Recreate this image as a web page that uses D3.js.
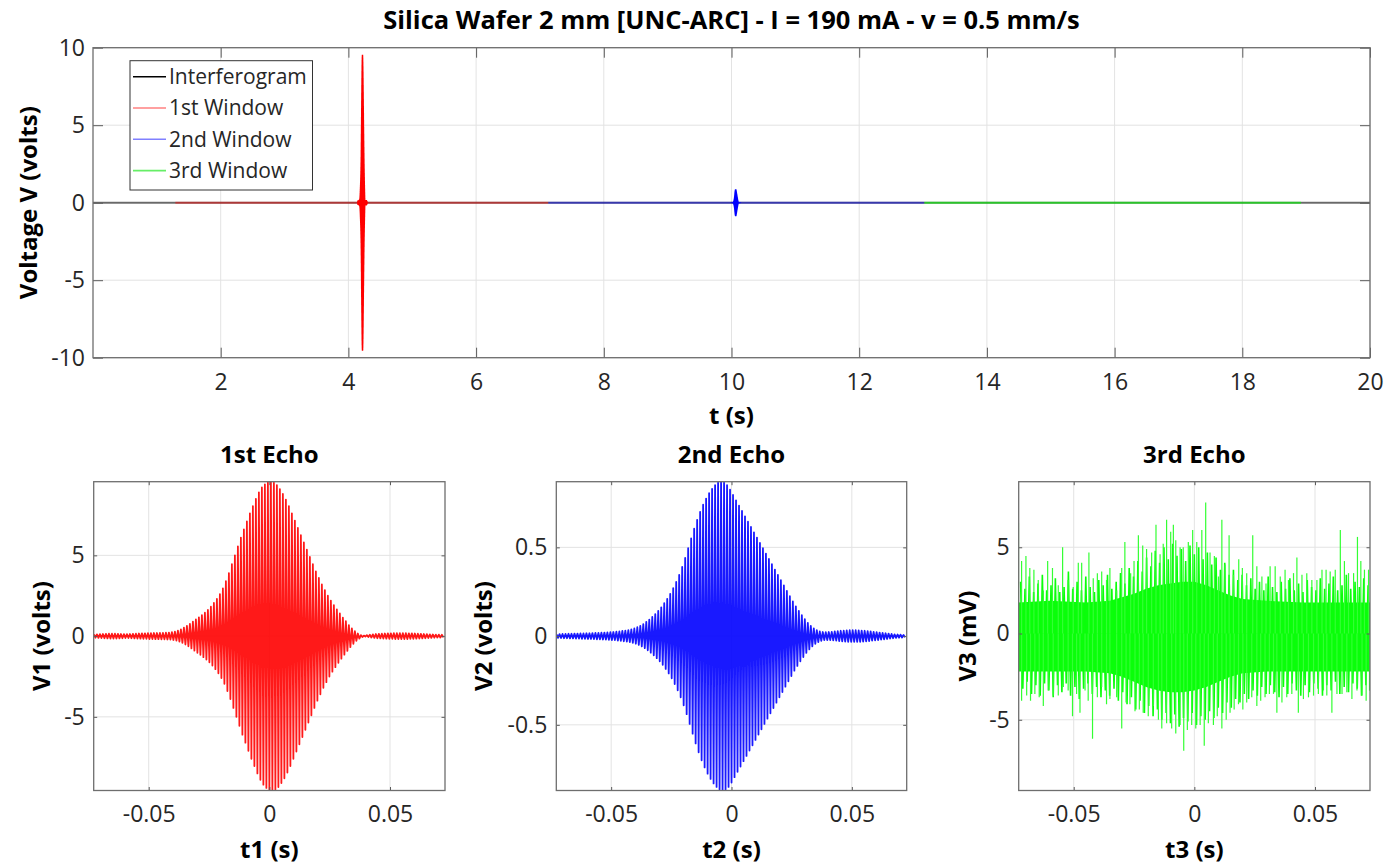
<!DOCTYPE html>
<html>
<head>
<meta charset="utf-8">
<script src="https://cdn.jsdelivr.net/npm/d3@7"></script>
<style>
  body { margin: 0; background: #fff; }
  text { font-family: "Open Sans", sans-serif; fill: #262626; }
  .lbl { font-weight: bold; fill: #000; }
</style>
</head>
<body>
<svg id="chart" width="1386" height="866"></svg>
<script>
// ---- data ----
var echoStart = -0.0727     // s, first sample of each echo window
var echoStep = 0.001243     // s, one oscillation period

// positive peak of each oscillation cycle, 1st echo (volts)
var v1Peaks = [0.10,0.11,0.12,0.13,0.14,0.15,0.15,0.15,0.14,0.13,
  0.12,0.12,0.13,0.14,0.15,0.16,0.17,0.17,0.18,0.18,
  0.19,0.19,0.20,0.20,0.21,0.22,0.24,0.28,0.34,0.42,
  0.52,0.63,0.76,0.90,1.03,1.16,1.30,1.45,1.62,1.82,
  2.05,2.30,2.60,2.95,3.40,3.90,4.45,5.00,5.55,6.10,
  6.60,7.10,7.60,8.05,8.50,8.90,9.20,9.40,9.52,9.55,
  9.50,9.35,9.10,8.80,8.45,8.05,7.60,7.15,6.70,6.25,
  5.80,5.35,4.90,4.45,4.00,3.60,3.20,2.85,2.50,2.20,
  1.92,1.65,1.40,1.15,0.92,0.68,0.48,0.30,0.16,0.06,
  0.03,0.06,0.09,0.11,0.13,0.14,0.15,0.16,0.17,0.17,
  0.18,0.18,0.18,0.18,0.18,0.17,0.17,0.16,0.15,0.14,
  0.13,0.12,0.11,0.10,0.09,0.09,0.08]

// positive peak of each oscillation cycle, 2nd echo (volts)
var v2Peaks = [0.010,0.011,0.012,0.012,0.013,0.013,0.014,0.014,0.015,0.015,
  0.016,0.016,0.017,0.018,0.018,0.019,0.020,0.021,0.022,0.023,
  0.025,0.027,0.029,0.031,0.034,0.038,0.043,0.050,0.058,0.068,
  0.080,0.093,0.108,0.124,0.142,0.162,0.185,0.210,0.238,0.270,
  0.305,0.345,0.390,0.440,0.495,0.550,0.605,0.655,0.700,0.740,
  0.775,0.805,0.830,0.850,0.865,0.870,0.865,0.850,0.825,0.795,
  0.765,0.735,0.705,0.675,0.645,0.615,0.585,0.555,0.525,0.495,
  0.465,0.435,0.405,0.375,0.345,0.315,0.285,0.255,0.225,0.195,
  0.168,0.142,0.118,0.095,0.075,0.058,0.044,0.034,0.027,0.023,
  0.022,0.023,0.024,0.026,0.028,0.030,0.031,0.032,0.033,0.033,
  0.033,0.032,0.031,0.030,0.028,0.026,0.024,0.022,0.020,0.018,
  0.016,0.014,0.012,0.010,0.009,0.008,0.006]

// 3rd echo (mV): solid noise band edges
var v3CoreT  = [-0.0729,-0.060,-0.045,-0.035,-0.030,-0.025,-0.020,-0.015,-0.010,-0.005,
  0.000,0.005,0.010,0.015,0.020,0.030,0.045,0.060,0.0729]
var v3CoreUp = [1.8,1.9,1.8,1.9,2.1,2.3,2.6,2.8,2.9,3.0,3.0,2.8,2.5,2.2,2.0,1.9,1.8,1.8,1.8]
var v3CoreLo = [-2.2,-2.2,-2.2,-2.3,-2.5,-2.8,-3.1,-3.3,-3.4,-3.4,-3.3,-3.1,-2.8,-2.5,-2.3,-2.2,-2.2,-2.2,-2.2]

// 3rd echo: ragged fringe of the band, one value per 1.8 ms
var fringeStart = -0.0720, fringeStep = 0.0018
var v3FringeUp = [3.0,2.6,3.3,2.4,2.9,3.4,2.5,2.8,3.2,2.4,
  2.7,3.6,2.6,3.0,2.5,3.3,2.7,2.4,3.1,2.8,
  3.4,2.6,3.0,3.5,2.9,3.8,3.3,4.2,3.6,4.4,
  3.9,4.8,4.1,5.0,4.3,5.2,4.5,4.9,4.2,5.1,
  4.6,5.0,4.3,4.7,4.0,4.4,3.7,4.1,3.4,3.7,
  3.1,3.4,2.8,3.2,2.6,3.0,2.5,3.3,2.7,2.4,
  3.0,2.6,3.2,2.5,2.9,2.4,3.1,2.7,2.5,3.2,
  2.6,2.9,3.3,2.5,2.8,3.4,2.6,3.0,2.7,3.2,2.8]
var v3FringeLo = [-3.2,-2.8,-3.5,-3.0,-3.6,-2.9,-3.3,-3.7,-3.0,-3.4,
  -2.9,-3.6,-3.1,-3.8,-3.2,-2.9,-3.5,-3.1,-3.7,-3.3,
  -3.6,-3.2,-3.9,-3.4,-4.1,-3.7,-4.4,-3.9,-4.6,-4.2,
  -4.8,-4.4,-5.0,-4.6,-5.2,-4.7,-5.4,-4.9,-5.1,-4.6,
  -5.3,-4.8,-5.0,-4.5,-4.9,-4.3,-4.6,-4.0,-4.3,-3.8,
  -4.0,-3.5,-3.8,-3.3,-3.6,-3.1,-3.5,-3.0,-3.4,-3.7,
  -3.1,-3.5,-2.9,-3.3,-3.6,-3.0,-3.4,-2.9,-3.2,-3.6,
  -3.0,-3.3,-2.8,-3.5,-3.1,-3.4,-2.9,-3.2,-3.6,-3.0,-3.3]

// 3rd echo: the tall visible spikes (time s, value mV)
var v3UpT = [-0.0729,-0.0716,-0.0698,-0.0682,-0.0665,-0.0647,-0.0626,-0.0608,-0.0588,-0.0564,
  -0.0546,-0.0523,-0.0502,-0.0481,-0.0467,-0.0437,-0.0419,-0.0402,-0.0384,-0.0364,
  -0.0350,-0.0322,-0.0301,-0.0288,-0.0264,-0.0250,-0.0232,-0.0214,-0.0198,-0.0177,
  -0.0159,-0.0142,-0.0129,-0.0115,-0.0098,-0.0087,-0.0077,-0.0059,-0.0046,-0.0025,
  -0.0007,0.0010,0.0031,0.0047,0.0065,0.0083,0.0100,0.0114,0.0127,0.0144,
  0.0162,0.0184,0.0199,0.0217,0.0242,0.0259,0.0280,0.0297,0.0314,0.0335,
  0.0356,0.0376,0.0390,0.0411,0.0425,0.0446,0.0466,0.0487,0.0508,0.0529,
  0.0546,0.0563,0.0584,0.0605,0.0622,0.0639,0.0660,0.0676,0.0690,0.0705,0.0722]
var v3UpV = [6.4,4.2,4.5,3.8,3.7,3.1,2.5,4.2,3.8,2.8,
  5.0,3.1,2.7,4.1,4.1,4.7,3.2,3.5,3.6,3.1,
  3.8,2.5,3.8,5.3,3.5,4.2,5.7,5.1,4.9,4.7,
  6.3,4.6,5.2,6.6,5.9,6.3,5.4,5.0,5.0,5.3,
  6.0,5.3,6.0,7.6,4.7,4.5,3.3,6.6,4.0,5.7,
  3.4,4.3,3.8,3.5,5.7,3.9,3.3,2.9,3.9,3.9,
  3.3,3.7,3.1,3.5,4.4,3.4,3.5,3.1,3.1,3.7,
  3.7,3.6,3.7,6.0,4.2,3.5,3.5,5.6,4.2,3.7,3.7]

var v3LoT = [-0.0729,-0.0716,-0.0695,-0.0679,-0.0661,-0.0643,-0.0626,-0.0606,-0.0585,-0.0564,
  -0.0543,-0.0523,-0.0505,-0.0488,-0.0474,-0.0453,-0.0440,-0.0422,-0.0402,-0.0384,
  -0.0364,-0.0350,-0.0322,-0.0301,-0.0283,-0.0267,-0.0246,-0.0228,-0.0212,-0.0191,
  -0.0170,-0.0149,-0.0135,-0.0115,-0.0094,-0.0077,-0.0059,-0.0044,-0.0029,-0.0011,
  0.0006,0.0024,0.0041,0.0058,0.0079,0.0095,0.0114,0.0132,0.0148,0.0165,
  0.0183,0.0201,0.0217,0.0238,0.0259,0.0275,0.0293,0.0311,0.0328,0.0342,
  0.0363,0.0383,0.0404,0.0431,0.0452,0.0473,0.0494,0.0514,0.0535,0.0549,
  0.0570,0.0591,0.0612,0.0632,0.0653,0.0674,0.0695,0.0712,0.0726]
var v3LoV = [-2.9,-3.9,-3.6,-3.9,-3.5,-3.7,-4.2,-3.3,-3.6,-3.6,
  -3.1,-3.3,-4.8,-3.5,-4.6,-3.3,-3.9,-6.1,-3.7,-3.1,
  -4.1,-3.8,-3.7,-5.5,-4.0,-4.1,-4.5,-4.4,-4.6,-4.8,
  -4.2,-5.0,-5.5,-5.2,-5.5,-5.8,-5.3,-6.8,-5.6,-5.3,
  -5.5,-5.3,-6.5,-5.2,-5.3,-4.8,-5.5,-5.0,-4.6,-4.4,
  -4.1,-4.4,-4.0,-3.7,-4.2,-3.9,-3.7,-3.5,-3.5,-4.6,
  -4.0,-3.7,-3.5,-4.6,-3.8,-3.7,-3.6,-3.5,-3.3,-3.6,
  -4.6,-3.5,-3.5,-3.4,-3.8,-3.3,-3.6,-3.9,-3.3]

// interferogram windows (s)
var windowNames = ["1st Window", "2nd Window", "3rd Window"]
var windowColors = ["#ff0000", "#0000ff", "#00ff00"]
var windowStart = [1.29, 7.13, 13.02]
var windowEnd = [7.13, 13.02, 18.92]
var echoCenter = [4.22, 10.07, 15.97]
var interferogramSpan = [0, 20]

var topXTicks = [2, 4, 6, 8, 10, 12, 14, 16, 18, 20]
var topYTicks = [-10, -5, 0, 5, 10]
var echoXTicks = [-0.05, 0, 0.05]
var echoTitles = ["1st Echo", "2nd Echo", "3rd Echo"]
var echoXLabels = ["t1 (s)", "t2 (s)", "t3 (s)"]
var echoYLabels = ["V1 (volts)", "V2 (volts)", "V3 (mV)"]
var echoYTicks = [[-5, 0, 5], [-0.5, 0, 0.5], [-5, 0, 5]]
var echoYDomain = [[-9.56, 9.56], [-0.87, 0.87], [-9.1, 8.8]]
var echoXDomain = [-0.0728, 0.0728]

// ---- drawing ----
var svg = d3.select("#chart")
var fmt = function(d) { return String(d) }

function zigzag(peaks) {
  var pts = []
  peaks.forEach(function(a, k) {
    var t = echoStart + k * echoStep
    pts.push([t, a])
    pts.push([t + echoStep / 2, -a])
  })
  return pts
}

function grid(g, x, y, xt, yt, w, h) {
  g.append("g").selectAll("line").data(xt).enter().append("line")
    .attr("x1", d => x(d)).attr("x2", d => x(d))
    .attr("y1", 0).attr("y2", h)
    .attr("stroke", "#e3e3e3").attr("stroke-width", 1)
  g.append("g").selectAll("line").data(yt).enter().append("line")
    .attr("y1", d => y(d)).attr("y2", d => y(d))
    .attr("x1", 0).attr("x2", w)
    .attr("stroke", "#e3e3e3").attr("stroke-width", 1)
}

function axes(g, x, y, xt, yt, w, h, tick, padX, padY) {
  g.append("g")
    .attr("transform", "translate(0," + h + ")")
    .call(d3.axisBottom(x).tickValues(xt).tickFormat(fmt)
      .tickSizeInner(-tick).tickSizeOuter(0).tickPadding(padX))
  g.append("g").call(d3.axisTop(x).tickValues(xt).tickFormat("")
      .tickSizeInner(-tick).tickSizeOuter(0))
  g.append("g")
    .call(d3.axisLeft(y).tickValues(yt).tickFormat(fmt)
      .tickSizeInner(-tick).tickSizeOuter(0).tickPadding(padY))
  g.append("g").attr("transform", "translate(" + w + ",0)")
    .call(d3.axisRight(y).tickValues(yt).tickFormat("")
      .tickSizeInner(-tick).tickSizeOuter(0))
  g.selectAll(".domain").remove()
  g.selectAll(".tick line").attr("stroke", "#5a5a5a")
  g.selectAll(".tick text").style("font-size", "23px").attr("fill", "#262626")
  g.append("rect").attr("width", w).attr("height", h)
    .attr("fill", "none").attr("stroke", "#6e6e6e").attr("stroke-width", 1.3)
}

// ---------- top panel ----------
var T = {left: 93, top: 47.7, right: 1370, bottom: 357.7}
var tw = T.right - T.left, th = T.bottom - T.top
var gt = svg.append("g").attr("transform", "translate(" + T.left + "," + T.top + ")")
var xt = d3.scaleLinear().domain([0, 20]).range([0, tw])
var yt = d3.scaleLinear().domain([-10, 10]).range([th, 0])
grid(gt, xt, yt, topXTicks, topYTicks, tw, th)

var flat = d3.line().x(d => xt(d[0])).y(d => yt(d[1]))
gt.append("path").datum([[interferogramSpan[0], 0], [interferogramSpan[1], 0]])
  .attr("d", flat).attr("stroke", "#000").attr("stroke-opacity", 0.55)
  .attr("stroke-width", 2).attr("fill", "none")
windowStart.forEach(function(s, i) {
  gt.append("path").datum([[s, 0], [windowEnd[i], 0]])
    .attr("d", flat).attr("stroke", windowColors[i])
    .attr("stroke-opacity", i == 2 ? 0.6 : 0.45)
    .attr("stroke-width", 2).attr("fill", "none")
})
;[v1Peaks, v2Peaks].forEach(function(p, i) {
  var pts = zigzag(p).map(d => [d[0] + echoCenter[i], d[1]])
  gt.append("path").datum(pts).attr("d", flat)
    .attr("stroke", windowColors[i]).attr("stroke-width", 1.4).attr("fill", "none")
})
axes(gt, xt, yt, topXTicks, topYTicks, tw, th, 10, 16, 8)

// legend
var lg = gt.append("g").attr("transform", "translate(" + (130 - T.left) + "," + (60.7 - T.top) + ")")
lg.append("rect").attr("width", 182.5).attr("height", 129.3)
  .attr("fill", "#fff").attr("stroke", "#333").attr("stroke-width", 1)
var legNames = ["Interferogram"].concat(windowNames)
var legColors = ["#000000", "#ff8080", "#8080ff", "#66ee66"]
legNames.forEach(function(n, i) {
  var yy = 16 + i * 31.3
  lg.append("line").attr("x1", 3).attr("x2", 36).attr("y1", yy).attr("y2", yy)
    .attr("stroke", legColors[i]).attr("stroke-width", 1.6)
  lg.append("text").attr("x", 39).attr("y", yy).attr("dy", "0.35em")
    .style("font-size", "21px").attr("fill", "#000").text(n)
})

svg.append("text").attr("class", "lbl").attr("x", (T.left + T.right) / 2).attr("y", 29)
  .attr("text-anchor", "middle").style("font-size", "25.5px")
  .text("Silica Wafer 2 mm [UNC-ARC] - I = 190 mA - v = 0.5 mm/s")
svg.append("text").attr("class", "lbl").attr("x", (T.left + T.right) / 2).attr("y", 424)
  .attr("text-anchor", "middle").style("font-size", "24px").text("t (s)")
svg.append("text").attr("class", "lbl")
  .attr("transform", "translate(29," + (T.top + th / 2) + ") rotate(-90)")
  .attr("text-anchor", "middle").attr("dy", "0.35em").style("font-size", "24px")
  .text("Voltage V (volts)")

// ---------- echo panels ----------
var panels = [
  {left: 93.7, right: 445, ylab: 41.7},
  {left: 556.3, right: 906.7, ylab: 484},
  {left: 1018.7, right: 1370, ylab: 967.5}
]
var ptop = 481.7, pbot = 790.5, ph = pbot - ptop

panels.forEach(function(p, i) {
  var w = p.right - p.left
  var g = svg.append("g").attr("transform", "translate(" + p.left + "," + ptop + ")")
  var x = d3.scaleLinear().domain(echoXDomain).range([0, w])
  var y = d3.scaleLinear().domain(echoYDomain[i]).range([ph, 0])
  grid(g, x, y, echoXTicks, echoYTicks[i], w, ph)

  svg.append("clipPath").attr("id", "clip" + i).append("rect")
    .attr("width", w).attr("height", ph)
  var plot = g.append("g").attr("clip-path", "url(#clip" + i + ")")
  var line = d3.line().x(d => x(d[0])).y(d => y(d[1]))

  if (i < 2) {
    plot.append("path").datum(zigzag(i == 0 ? v1Peaks : v2Peaks))
      .attr("d", line).attr("fill", "none").attr("stroke-linejoin", "round")
      .attr("stroke", windowColors[i]).attr("stroke-opacity", 0.9)
      .attr("stroke-width", 1.8)
  } else {
    var core = v3CoreT.map((t, k) => [t, v3CoreUp[k], v3CoreLo[k]])
    plot.append("path").datum(core)
      .attr("d", d3.area().x(d => x(d[0])).y0(d => y(d[2])).y1(d => y(d[1])))
      .attr("fill", "#0aff0a")
    var fringe = []
    v3FringeUp.forEach(function(v, k) {
      var t = fringeStart + k * fringeStep
      fringe.push([t, v], [t + fringeStep / 2, v3FringeLo[k]])
    })
    plot.append("path").datum(fringe).attr("d", line).attr("fill", "none")
      .attr("stroke", "#0aff0a").attr("stroke-width", 1.6)
    var spikes = v3UpT.map((t, k) => [t, v3UpV[k]])
      .concat(v3LoT.map((t, k) => [t, v3LoV[k]]))
    plot.selectAll("line.sp").data(spikes).enter().append("line")
      .attr("x1", d => x(d[0])).attr("x2", d => x(d[0]))
      .attr("y1", y(0)).attr("y2", d => y(d[1]))
      .attr("stroke", "#33ff33").attr("stroke-width", 1.2)
  }
  axes(g, x, y, echoXTicks, echoYTicks[i], w, ph, 3.5, 15.5, 9)

  svg.append("text").attr("class", "lbl").attr("x", (p.left + p.right) / 2).attr("y", 463)
    .attr("text-anchor", "middle").style("font-size", "24px").text(echoTitles[i])
  svg.append("text").attr("class", "lbl").attr("x", (p.left + p.right) / 2).attr("y", 858)
    .attr("text-anchor", "middle").style("font-size", "24px").text(echoXLabels[i])
  svg.append("text").attr("class", "lbl")
    .attr("transform", "translate(" + p.ylab + "," + (ptop + ph / 2) + ") rotate(-90)")
    .attr("text-anchor", "middle").attr("dy", "0.35em").style("font-size", "24px")
    .text(echoYLabels[i])
})
</script>
</body>
</html>
